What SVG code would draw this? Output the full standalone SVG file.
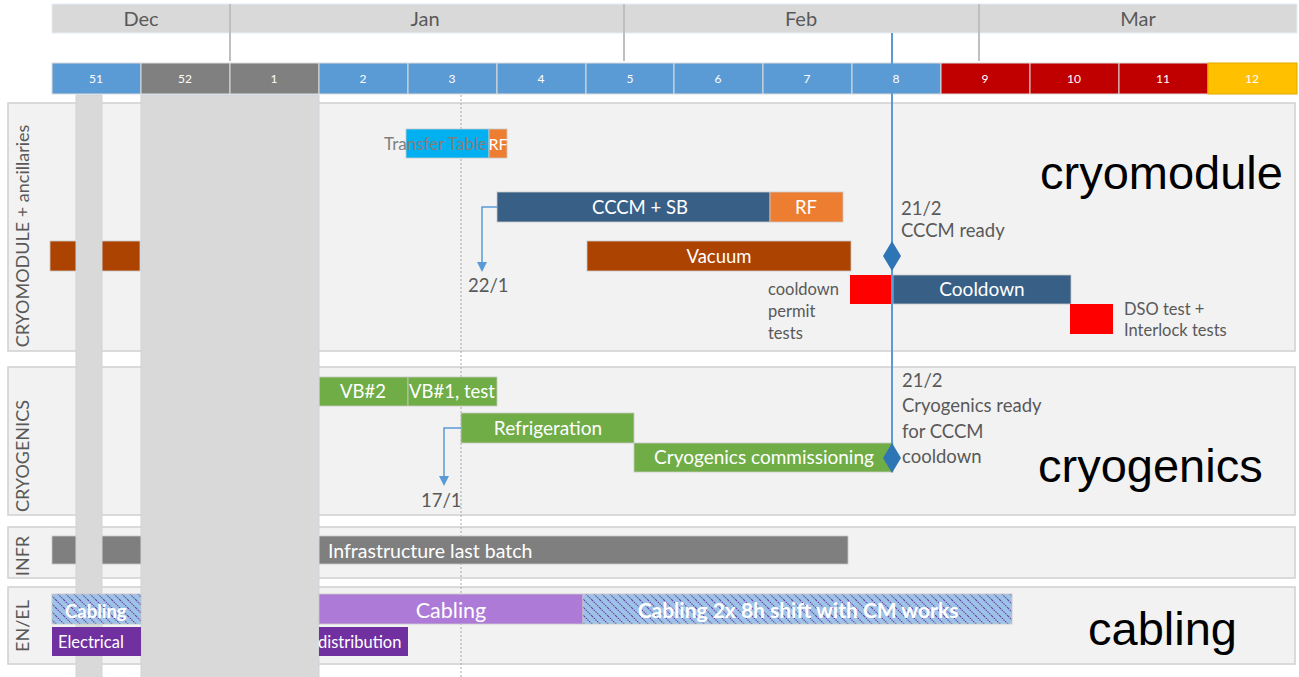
<svg xmlns="http://www.w3.org/2000/svg" width="1299" height="677" viewBox="0 0 1299 677">
<defs>
<pattern id="hatch" patternUnits="userSpaceOnUse" width="8" height="8">
<rect width="8" height="8" fill="#9dc3e6"/>
<path d="M0,0 L8,8 M-4,4 L4,12 M4,-4 L12,4" stroke="#6a3fa8" stroke-width="1.1" stroke-dasharray="1.6,0.9"/>
</pattern>
</defs>
<style>
.t{font-family:Lato,"Noto Sans",sans-serif}
.w{fill:#fff}
.g{fill:#595959}
.big{font-family:"Liberation Sans",Arial,sans-serif;font-size:47px;fill:#000}
.lane{fill:#f2f2f2;stroke:#d0d0d0;stroke-width:1.5}
.wk{stroke:#dcdcdc;stroke-width:1}
.bar{stroke:#c8c8c8;stroke-width:0.8}
.col{fill:#d9d9d9;stroke:#cdd5de;stroke-width:1}
.lbl{font-family:Lato,"Noto Sans",sans-serif;font-size:18px;fill:#595959}
.ah{fill:#5b9bd5}
</style>
<rect width="1299" height="677" fill="#fff"/>

<g id="timeline">
<rect x="52" y="4" width="1245" height="29" fill="#d9d9d9" stroke="#e6ecf3" stroke-width="1"/>
<g stroke="#bfbfbf" stroke-width="2">
<line x1="230" y1="4" x2="230" y2="61"/>
<line x1="624" y1="4" x2="624" y2="61"/>
<line x1="979" y1="4" x2="979" y2="61"/>
</g>
<g class="t" font-size="20" fill="#595959" text-anchor="middle">
<text x="141" y="26">Dec</text>
<text x="425" y="26">Jan</text>
<text x="801" y="26">Feb</text>
<text x="1138" y="26">Mar</text>
</g>
<g class="wk">
<rect x="52" y="63" width="89" height="31" fill="#5b9bd5"/>
<rect x="141" y="63" width="89" height="31" fill="#808080"/>
<rect x="230" y="63" width="89" height="31" fill="#808080"/>
<rect x="319" y="63" width="89" height="31" fill="#5b9bd5"/>
<rect x="408" y="63" width="89" height="31" fill="#5b9bd5"/>
<rect x="497" y="63" width="89" height="31" fill="#5b9bd5"/>
<rect x="586" y="63" width="88" height="31" fill="#5b9bd5"/>
<rect x="674" y="63" width="89" height="31" fill="#5b9bd5"/>
<rect x="763" y="63" width="89" height="31" fill="#5b9bd5"/>
<rect x="852" y="63" width="89" height="31" fill="#5b9bd5"/>
<rect x="941" y="63" width="89" height="31" fill="#c00000"/>
<rect x="1030" y="63" width="89" height="31" fill="#c00000"/>
<rect x="1119" y="63" width="89" height="31" fill="#c00000"/>
<rect x="1208" y="63" width="89" height="31" fill="#ffc000" stroke="#e0a800"/>
</g>
<g class="t w" font-size="12" text-anchor="middle">
<text x="96" y="83">51</text><text x="185" y="83">52</text><text x="274" y="83">1</text>
<text x="363" y="83">2</text><text x="452" y="83">3</text><text x="541" y="83">4</text>
<text x="630" y="83">5</text><text x="718" y="83">6</text><text x="807" y="83">7</text>
<text x="896" y="83">8</text><text x="985" y="83">9</text><text x="1074" y="83">10</text>
<text x="1163" y="83">11</text><text x="1252" y="83">12</text>
</g>
</g>

<g id="lanes">
<rect class="lane" x="8" y="103" width="1287" height="248"/>
<rect class="lane" x="8" y="367" width="1287" height="148"/>
<rect class="lane" x="8" y="527" width="1287" height="51"/>
<rect class="lane" x="8" y="587" width="1287" height="77"/>
<text class="lbl" transform="translate(29,236) rotate(-90)" text-anchor="middle">CRYOMODULE + ancillaries</text>
<text class="lbl" transform="translate(29,456) rotate(-90)" text-anchor="middle">CRYOGENICS</text>
<text class="lbl" transform="translate(29,556) rotate(-90)" text-anchor="middle">INFR</text>
<text class="lbl" transform="translate(29,626) rotate(-90)" text-anchor="middle">EN/EL</text>
<text class="big" x="1040" y="189">cryomodule</text>
<text class="big" x="1038" y="482">cryogenics</text>
<text class="big" x="1088" y="645">cabling</text>
</g>

<line id="week3-marker" x1="461" y1="95" x2="461" y2="677" stroke="#a6a6a6" stroke-width="1" stroke-dasharray="2,2"/>

<g id="transfer-table">
<rect class="bar" x="406" y="129" width="83" height="29" fill="#00b0f0"/>
<rect class="bar" x="489" y="129" width="18" height="29" fill="#ed7d31"/>
<text class="t" x="384" y="150" font-size="17" fill="#7f7f7f">Transfer Table</text>
<text class="t w" x="498" y="150" font-size="16" text-anchor="middle">RF</text>
</g>
<g id="cccm-sb">
<rect class="bar" x="497" y="192" width="273" height="30" fill="#386087"/>
<text class="t w" x="640" y="214" font-size="18.5" text-anchor="middle">CCCM + SB</text>
</g>
<g id="rf">
<rect class="bar" x="770" y="192" width="73" height="30" fill="#ed7d31"/>
<text class="t w" x="806" y="214" font-size="18.5" text-anchor="middle">RF</text>
</g>
<g id="vacuum">
<rect class="bar" x="587" y="241" width="264" height="30" fill="#ad4300"/>
<rect class="bar" x="50" y="241" width="90" height="30" fill="#ad4300"/>
<text class="t w" x="719" y="263" font-size="18.5" text-anchor="middle">Vacuum</text>
</g>
<g id="cooldown-permit">
<rect x="850" y="275" width="43" height="29" fill="#ff0000"/>
<g class="t g" font-size="16.5"><text x="768" y="295">cooldown</text><text x="768" y="317">permit</text><text x="768" y="339">tests</text></g>
</g>
<g id="cooldown">
<rect class="bar" x="893" y="275" width="178" height="29" fill="#386087"/>
<text class="t w" x="982" y="296" font-size="19" text-anchor="middle">Cooldown</text>
</g>
<g id="dso-test">
<rect x="1070" y="304" width="43" height="30" fill="#ff0000"/>
<g class="t g" font-size="16.5"><text x="1124" y="315">DSO test +</text><text x="1124" y="336">Interlock tests</text></g>
</g>

<g id="vb2">
<rect class="bar" x="319" y="377" width="89" height="29" fill="#70ad47"/>
<text class="t w" x="363" y="398" font-size="18.5" text-anchor="middle">VB#2</text>
</g>
<g id="vb1">
<rect class="bar" x="408" y="377" width="89" height="29" fill="#70ad47"/>
<text class="t w" x="452" y="398" font-size="18.5" text-anchor="middle">VB#1, test</text>
</g>
<g id="refrigeration">
<rect class="bar" x="461" y="413" width="173" height="30" fill="#70ad47"/>
<text class="t w" x="548" y="435" font-size="19" text-anchor="middle">Refrigeration</text>
</g>
<g id="cryo-commissioning">
<rect class="bar" x="634" y="443" width="259" height="29" fill="#70ad47"/>
<text class="t w" x="764" y="464" font-size="19" text-anchor="middle">Cryogenics commissioning</text>
</g>

<g id="infrastructure">
<rect class="bar" x="52" y="536" width="796" height="28" fill="#7f7f7f"/>
<text class="t w" x="328" y="558" font-size="19.5">Infrastructure last batch</text>
</g>

<g id="holidays">
<rect class="col" x="76" y="95" width="26" height="583"/>
<rect class="col" x="141" y="95" width="178" height="583"/>
</g>

<g id="cabling-1">
<rect class="bar" x="52" y="594" width="89" height="30" fill="url(#hatch)"/>
<text class="t w" x="65" y="618" font-size="18.5" font-weight="bold">Cabling</text>
</g>
<g id="cabling-2">
<rect class="bar" x="319" y="594" width="264" height="30" fill="#ae7ad8"/>
<text class="t w" x="451" y="618" font-size="21.5" text-anchor="middle">Cabling</text>
</g>
<g id="cabling-3">
<rect class="bar" x="583" y="594" width="429" height="30" fill="url(#hatch)"/>
<text class="t w" x="798" y="618" font-size="21" font-weight="bold" text-anchor="middle">Cabling 2x 8h shift with CM works</text>
</g>
<g id="electrical">
<rect x="52" y="627" width="89" height="29" fill="#7030a0"/>
<rect x="319" y="627" width="89" height="29" fill="#7030a0"/>
<text class="t w" x="58" y="648" font-size="16.5">Electrical</text>
<text class="t w" x="318" y="648" font-size="16.5">distribution</text>
</g>

<g id="connectors">
<line x1="892" y1="33" x2="892" y2="458" stroke="#5b9bd5" stroke-width="2"/>
<path d="M497,207 H482 V263" fill="none" stroke="#5b9bd5" stroke-width="1.5"/>
<polygon class="ah" points="477,262 487,262 482,272"/>
<path d="M461,428 H444 V477" fill="none" stroke="#5b9bd5" stroke-width="1.5"/>
<polygon class="ah" points="439,476 449,476 444,486"/>
</g>

<g id="milestone-cccm">
<path d="M892,241 L901,256 L892,271 L883,256 Z" fill="#2e75b6"/>
<g class="t g" font-size="18.5"><text x="901" y="215">21/2</text><text x="901" y="237">CCCM ready</text></g>
</g>
<g id="milestone-cryo">
<path d="M892,443 L901,458 L892,473 L883,458 Z" fill="#2e75b6"/>
<g class="t g" font-size="18.5"><text x="902" y="387">21/2</text><text x="902" y="412">Cryogenics ready</text><text x="902" y="438">for CCCM</text><text x="902" y="463">cooldown</text></g>
</g>
<g id="date-22-1"><text class="t g" x="468" y="292" font-size="18.5">22/1</text></g>
<g id="date-17-1"><text class="t g" x="421" y="507" font-size="18.5">17/1</text></g>
</svg>
